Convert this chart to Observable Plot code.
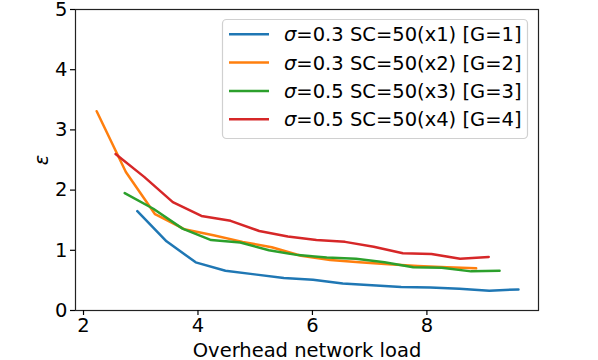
<!DOCTYPE html>
<html>
<head>
<meta charset="utf-8">
<script src="https://cdn.jsdelivr.net/npm/d3@7"></script>
<script src="https://cdn.jsdelivr.net/npm/@observablehq/plot@0.6"></script>
<style>
  body { margin: 0; background: #fff; }
  #chart { width: 598px; height: 360px; }
</style>
</head>
<body>
<div id="chart"></div>
<script>
const seriesNames = ["σ=0.3 SC=50(x1) [G=1]", "σ=0.3 SC=50(x2) [G=2]", "σ=0.5 SC=50(x3) [G=3]", "σ=0.5 SC=50(x4) [G=4]"];
const seriesColors = ["#1f77b4", "#ff7f0e", "#2ca02c", "#d62728"];

const blueX   = [2.94, 3.45, 3.96, 4.48, 4.99, 5.50, 6.01, 6.53, 7.04, 7.55, 8.06, 8.57, 9.09, 9.60];
const blueY   = [1.65, 1.15, 0.80, 0.66, 0.60, 0.54, 0.51, 0.45, 0.42, 0.39, 0.38, 0.36, 0.33, 0.35];
const orangeX = [2.23, 2.74, 3.25, 3.76, 4.27, 4.78, 5.29, 5.80, 6.31, 6.82, 7.33, 7.84, 8.35, 8.86];
const orangeY = [3.31, 2.30, 1.60, 1.35, 1.25, 1.14, 1.05, 0.91, 0.84, 0.80, 0.77, 0.74, 0.72, 0.70];
const greenX  = [2.72, 3.22, 3.73, 4.23, 4.74, 5.24, 5.75, 6.25, 6.76, 7.26, 7.76, 8.26, 8.77, 9.27];
const greenY  = [1.95, 1.69, 1.36, 1.17, 1.13, 1.00, 0.92, 0.88, 0.86, 0.80, 0.72, 0.71, 0.65, 0.66];
const redX    = [2.56, 3.06, 3.56, 4.06, 4.57, 5.07, 5.57, 6.07, 6.57, 7.07, 7.58, 8.08, 8.58, 9.08];
const redY    = [2.60, 2.22, 1.80, 1.57, 1.49, 1.32, 1.23, 1.17, 1.14, 1.06, 0.95, 0.94, 0.86, 0.89];

const xTicks = [2, 4, 6, 8];
const yTicks = [0, 1, 2, 3, 4, 5];
const xLabel = "Overhead network load";
const yLabel = "ε";

const allX = [blueX, orangeX, greenX, redX];
const allY = [blueY, orangeY, greenY, redY];
const data = [];
seriesNames.forEach((name, i) => {
  allX[i].forEach((x, j) => data.push({series: name, x, y: allY[i][j]}));
});

const font = "'DejaVu Sans', sans-serif";
const fs = 19.5;

const chart = Plot.plot({
  width: 598,
  height: 360,
  marginLeft: 75,
  marginRight: 60,
  marginTop: 9,
  marginBottom: 50,
  style: {fontFamily: font, fontSize: fs + "px", color: "#000", background: "#fff", overflow: "visible"},
  x: {domain: [1.86, 9.95]},
  y: {domain: [0, 5]},
  color: {domain: seriesNames, range: seriesColors},
  marks: [
    Plot.line(data, {x: "x", y: "y", z: "series", stroke: "series", strokeWidth: 2.5}),
    Plot.frame({stroke: "#222", strokeWidth: 1.2}),
    Plot.axisX({ticks: xTicks, tickFormat: d3.format("d"), tickSize: 5, tickPadding: 3, fontSize: fs, label: xLabel, labelAnchor: "center", labelOffset: 46, labelArrow: "none", strokeWidth: 1.2}),
    Plot.axisY({ticks: yTicks, tickFormat: d3.format("d"), tickSize: 5, tickPadding: 3, fontSize: fs, label: yLabel, labelAnchor: "center", labelOffset: 41, labelArrow: "none", strokeWidth: 1.2})
  ]
});

document.getElementById("chart").appendChild(chart);

// italic epsilon label
d3.select(chart).selectAll("[aria-label='y-axis label'] text").style("font-style", "italic");

// Legend (upper right, inside the frame)
const svg = d3.select(chart);
const lg = svg.append("g").attr("font-family", font).attr("font-size", fs).attr("text-anchor", "start");
lg.append("rect")
  .attr("x", 222.5).attr("y", 19.5).attr("width", 305).attr("height", 119)
  .attr("rx", 4).attr("fill", "#fff").attr("fill-opacity", 0.8)
  .attr("stroke", "#d0d0d0").attr("stroke-width", 1.2);
seriesNames.forEach((name, i) => {
  const cy = 34.3 + i * 28.3;
  lg.append("line").attr("x1", 229).attr("x2", 269).attr("y1", cy).attr("y2", cy)
    .attr("stroke", seriesColors[i]).attr("stroke-width", 2.5);
  const t = lg.append("text").attr("x", 284).attr("y", cy).attr("dy", "0.36em")
    .attr("fill", "#000").attr("text-anchor", "start");
  t.append("tspan").attr("font-style", "italic").text(name.slice(0, 1));
  t.append("tspan").text(name.slice(1));
});
</script>
</body>
</html>
